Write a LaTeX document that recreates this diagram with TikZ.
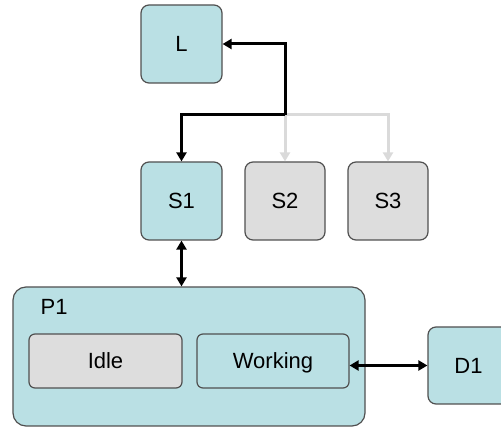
\documentclass[tikz,border=0pt]{standalone}
\usepackage{fontspec}
\setmainfont{Liberation Sans}
\usetikzlibrary{arrows.meta}
\definecolor{tealfill}{RGB}{186,224,228}
\definecolor{greyfill}{RGB}{221,221,221}
\definecolor{edgegrey}{RGB}{80,80,80}
\definecolor{faintline}{RGB}{218,218,218}
\tikzset{
  box/.style={draw=edgegrey, line width=1.2pt, rounded corners=8pt, inner sep=0pt,
    font=\fontsize{22}{26}\selectfont, text height=15.8pt, text depth=0pt},
  active/.style={box, fill=tealfill},
  passive/.style={box, fill=greyfill},
  link/.style={line width=3pt, black, -{Triangle[length=9pt,width=10pt]}},
  dimlink/.style={line width=3pt, faintline, -{Triangle[length=9pt,width=10pt]}},
  duplex/.style={line width=3pt, black, {Triangle[length=9pt,width=10pt]}-{Triangle[length=9pt,width=10pt]}}
}
\begin{document}
\begin{tikzpicture}[x=1pt,y=-1pt]
\useasboundingbox (0,0) rectangle (501,427);
\begin{scope}
\clip (0,0) rectangle (501,427);
% leader and servers
\node[active, minimum width=81pt, minimum height=78pt] (L) at (181.5,44) {L};
\node[active, minimum width=81pt, minimum height=78pt] (S1) at (181.5,201) {S1};
\node[passive, minimum width=80pt, minimum height=78pt] (S2) at (285,201) {S2};
\node[passive, minimum width=80pt, minimum height=78pt] (S3) at (388,201) {S3};
% process with its states
\node[active, rounded corners=13pt, minimum width=352pt, minimum height=139pt] (P1) at (189,356.5) {};
\node[box, draw=none, fill=none, anchor=west] (P1label) at (40,307) {P1};
\node[passive, rounded corners=6pt, minimum width=153pt, minimum height=54pt] (Idle) at (105.5,361) {Idle};
\node[active, rounded corners=6pt, minimum width=152pt, minimum height=54pt] (Working) at (273,361) {Working};
\node[active, minimum width=81pt, minimum height=77pt] (D1) at (468.5,365.5) {D1};
% connectors from the junction below L
\coordinate (J) at (285,115);
\draw[dimlink] (J) -- (S2.north);
\draw[dimlink] (J) -| (S3.north);
\draw[link] (J) |- (L.east);
\draw[link] (J) -| (S1.north);
\draw[duplex] (S1.south) -- (P1.north -| S1.south);
\draw[duplex] (Working.east |- D1.west) -- (D1.west);
\end{scope}
\end{tikzpicture}
\end{document}
